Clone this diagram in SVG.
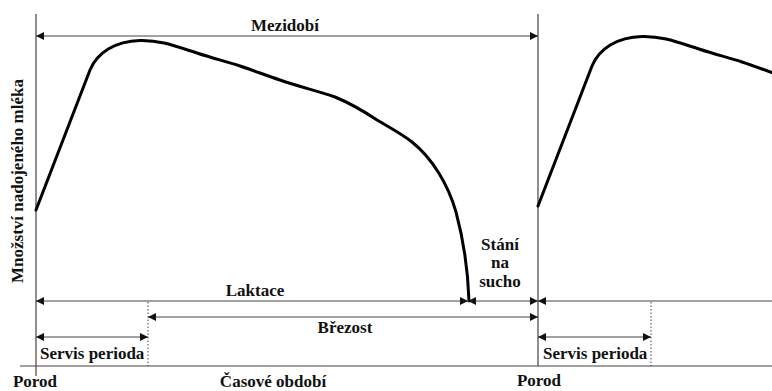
<svg xmlns="http://www.w3.org/2000/svg" width="772" height="391" viewBox="0 0 772 391">
<style>
.ln{stroke:#444;stroke-width:1.2;fill:none}
.dot{stroke:#444;stroke-width:1;stroke-dasharray:1.5,2;fill:none}
.curve{stroke:#000;stroke-width:3;fill:none;stroke-linejoin:round;stroke-linecap:round}
.t{font-family:"Liberation Serif","Times New Roman",serif;font-weight:bold;font-size:17px;fill:#111}
.c{text-anchor:middle}
.arr{marker-start:url(#ah);marker-end:url(#ah)}
</style>
<defs>
<marker id="ah" viewBox="0 0 8 8" refX="8" refY="4" markerWidth="8" markerHeight="8" markerUnits="userSpaceOnUse" orient="auto-start-reverse">
<path d="M0,0 L8,4 L0,8 z" fill="#111"/>
</marker>
</defs>
<g id="axes">
<line class="ln" x1="36" y1="14" x2="36" y2="376"/>
<line class="ln" x1="538" y1="14" x2="538" y2="366"/>
<line class="ln" x1="20" y1="366" x2="772" y2="366"/>
<line class="dot" x1="148" y1="302" x2="148" y2="366"/>
<line class="dot" x1="651" y1="302" x2="651" y2="366"/>
</g>
<g id="curves">
<path class="curve" d="M36,210 L90,70 C97,53 115,41 140,40.5 C160,40 175,46 197,53 C215,59 225,61 240,66 C255,71 265,75 280,80 C300,87 318,91 335,97 C352,104 365,112 377,120 C392,129 402,134 412,142 C432,158 448,184 456,212 C463,238 468,270 469,301"/>
<path class="curve" transform="translate(502,-4)" d="M36,210 L90,70 C97,53 115,41 140,40.5 C160,40 175,46 197,53 C215,59 225,61 240,66 C255,71 265,75 280,80"/>
</g>
<g id="connectors">
<line class="ln arr" x1="36" y1="36" x2="538" y2="36"/>
<line class="ln arr" x1="36" y1="301" x2="468" y2="301"/>
<line class="ln arr" x1="468" y1="301" x2="538" y2="301"/>
<line class="ln" x1="538" y1="301" x2="772" y2="301" marker-start="url(#ah)"/>
<line class="ln arr" x1="148" y1="317" x2="538" y2="317"/>
<line class="ln arr" x1="36" y1="337" x2="148" y2="337"/>
<line class="ln arr" x1="538" y1="337" x2="651" y2="337"/>
</g>
<g id="labels">
<text class="t c" x="285" y="31">Mezidobí</text>
<text class="t c" x="255" y="296">Laktace</text>
<text class="t c" x="345" y="333">Březost</text>
<text class="t c" x="500" y="250">Stání</text>
<text class="t c" x="500" y="268">na</text>
<text class="t c" x="500" y="287">sucho</text>
<text class="t" x="40" y="359">Servis perioda</text>
<text class="t" x="543" y="359">Servis perioda</text>
<text class="t c" x="35" y="387">Porod</text>
<text class="t c" x="539" y="386">Porod</text>
<text class="t c" x="273" y="387">Časové období</text>
<text class="t c" transform="translate(23,181) rotate(-90)">Množství nadojeného mléka</text>
</g>
</svg>
